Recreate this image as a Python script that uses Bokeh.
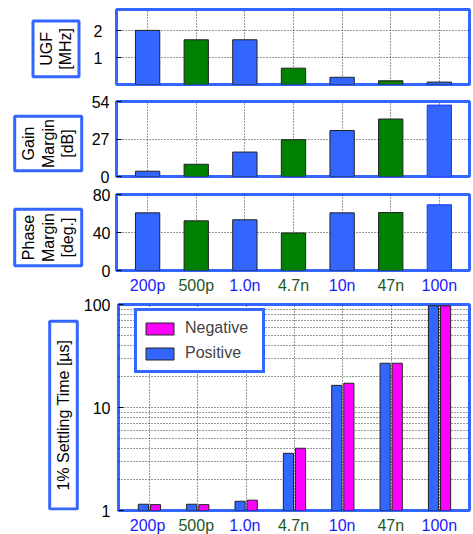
from math import pi
from bokeh.plotting import figure
from bokeh.models import (Range1d, FixedTicker, ColumnDataSource,
                          Legend, LegendItem, PrintfTickFormatter)
from bokeh.layouts import column, row
from bokeh.transform import dodge
from bokeh.embed import file_html
from bokeh.resources import INLINE
from bokeh.core.properties import value

# ---- data ----
capacitance = ["200p", "500p", "1.0n", "4.7n", "10n", "47n", "100n"]
positions = [1, 2, 3, 4, 5, 6, 7]
ugf_mhz = [2.02, 1.67, 1.67, 0.61, 0.27, 0.14, 0.09]
gain_margin_db = [3.8, 8.8, 17.6, 26.5, 33.1, 41.4, 51.4]
phase_margin_deg = [60.7, 52.3, 53.4, 39.5, 60.7, 61.1, 69.2]
settling_positive_us = [1.15, 1.15, 1.23, 3.59, 16.4, 26.9, 97.3]
settling_negative_us = [1.14, 1.14, 1.26, 4.02, 17.2, 26.9, 97.3]

ugf_ticks = [1, 2]
gm_ticks = [0, 27, 54]
pm_ticks = [0, 40, 80]
settle_ticks = [1, 10, 100]
settle_minor = [2, 3, 4, 5, 6, 7, 8, 9, 20, 30, 40, 50, 60, 70, 80, 90]

BLUE = "#3366ff"
GREEN = "#008000"
MAGENTA = "#ff00ff"
bar_fill = [BLUE, GREEN, BLUE, GREEN, BLUE, GREEN, BLUE]
bar_line = ["#222222"] * 7
bar_line_blue_last = ["#222222"] * 6 + ["#2233ff"]
LABEL_BLUE = "#1a1aff"
LABEL_GREEN = "#1d5a1d"
tick_text_color = [LABEL_BLUE, LABEL_GREEN, LABEL_BLUE, LABEL_GREEN, LABEL_BLUE, LABEL_GREEN, LABEL_BLUE]
FONT = "Liberation Sans"
XR = (0.36, 7.62)


def make_panel(width, height, left, top, bottom, y_range, yticks, standoff, y_type="linear"):
    p = figure(width=width, height=height, x_range=Range1d(*XR), y_range=y_range,
               y_axis_type=y_type, toolbar_location=None, output_backend="svg",
               min_border_left=left, min_border_right=3, min_border_top=top,
               min_border_bottom=bottom)
    p.outline_line_color = BLUE
    p.outline_line_width = 3
    p.outline_line_alpha = 1.0
    p.background_fill_color = "white"
    p.border_fill_color = "white"
    p.xaxis.visible = False
    p.xaxis.ticker = FixedTicker(ticks=positions)
    p.yaxis.ticker = FixedTicker(ticks=yticks)
    p.yaxis.axis_line_color = None
    p.yaxis.major_tick_in = 5
    p.yaxis.major_tick_out = 0
    p.yaxis.minor_tick_in = 0
    p.yaxis.minor_tick_out = 0
    p.yaxis.major_tick_line_color = "black"
    p.yaxis.major_label_standoff = standoff
    p.yaxis.major_label_text_font = FONT
    p.yaxis.major_label_text_font_size = "16px"
    p.yaxis.major_label_text_color = "black"
    p.grid.grid_line_color = "black"
    p.grid.grid_line_alpha = 0.8
    p.grid.grid_line_dash = "1 2"
    p.grid.grid_line_width = 1
    return p


def label_box(width, height, top, bottom, box, text):
    # frame spans the same rows as the neighbouring panel; ranges are in pixels
    frame_h = height - top - bottom
    q = figure(width=width, height=height, x_axis_location=None, y_axis_location=None,
               toolbar_location=None, output_backend="svg",
               x_range=Range1d(0, width), y_range=Range1d(0, frame_h),
               min_border_left=0, min_border_right=0,
               min_border_top=top, min_border_bottom=bottom)
    q.grid.visible = False
    q.outline_line_color = None
    l, r, b, t = box
    q.quad(left=[l], right=[r], bottom=[b], top=[t], fill_color="white",
           line_color=BLUE, line_width=3)
    q.text(x=[(l + r) / 2], y=[(b + t) / 2], text=[text], angle=pi / 2,
           text_align="center", text_baseline="middle", text_font=value(FONT),
           text_font_size="16px", text_color="black", text_line_height=1.15)
    return q


def tick_strip(height, overlap, text_y):
    s = figure(width=472, height=height, x_range=Range1d(*XR), y_range=Range1d(0, height),
               x_axis_location=None, y_axis_location=None, toolbar_location=None,
               output_backend="svg", min_border_left=116, min_border_right=3,
               min_border_top=0, min_border_bottom=0, margin=(-overlap, 0, 0, 0))
    s.grid.visible = False
    s.outline_line_color = None
    s.background_fill_alpha = 0
    s.border_fill_alpha = 0
    src = ColumnDataSource(dict(x=positions, y=[text_y] * 7, text=capacitance,
                                color=tick_text_color))
    s.text(x="x", y="y", text="text", source=src, text_color="color",
           text_align="center", text_baseline="top", text_font=value(FONT),
           text_font_size="16px")
    return s


# ---- UGF ----
p1 = make_panel(388, 92, 32, 9, 8, Range1d(0, 2.8), ugf_ticks, 14)
s1 = ColumnDataSource(dict(x=positions, top=ugf_mhz, fill=bar_fill, line=bar_line))
p1.vbar(x="x", top="top", bottom=0, width=0.5, source=s1, fill_color="fill",
        line_color="line", line_width=1)
l1 = label_box(84, 92, 9, 8, (32.5, 78.5, 7.8, 63.5), "UGF\n[MHz]")

# ---- Gain margin ----
p2 = make_panel(388, 94, 32, 9, 10, Range1d(0, 54), gm_ticks, 7)
s2 = ColumnDataSource(dict(x=positions, top=gain_margin_db, fill=bar_fill, line=bar_line_blue_last))
p2.vbar(x="x", top="top", bottom=0, width=0.5, source=s2, fill_color="fill",
        line_color="line", line_width=1)
l2 = label_box(84, 94, 9, 10, (14.2, 81.2, 5.8, 60.2), "Gain\nMargin\n[dB]")

# ---- Phase margin ----
p3 = make_panel(388, 92, 32, 8, 8, Range1d(0, 80), pm_ticks, 6)
s3 = ColumnDataSource(dict(x=positions, top=phase_margin_deg, fill=bar_fill, line=bar_line_blue_last))
p3.vbar(x="x", top="top", bottom=0, width=0.5, source=s3, fill_color="fill",
        line_color="line", line_width=1)
l3 = label_box(84, 92, 8, 8, (14.2, 81.2, 4.8, 61.2), "Phase\nMargin\n[deg.]")
t3 = tick_strip(24, 4, 22)

# ---- Settling time ----
p4 = make_panel(392, 235, 36, 6, 23, Range1d(1, 100), settle_ticks, 8, y_type="log")
p4.yaxis.ticker = FixedTicker(ticks=settle_ticks, minor_ticks=settle_minor)
p4.yaxis.formatter = PrintfTickFormatter(format="%d")
p4.ygrid.minor_grid_line_color = "black"
p4.ygrid.minor_grid_line_alpha = 0.8
p4.ygrid.minor_grid_line_dash = "1 2"
s4 = ColumnDataSource(dict(x=positions, pos=settling_positive_us, neg=settling_negative_us))
r_pos = p4.vbar(x=dodge("x", -0.125), top="pos", bottom=1, width=0.21, source=s4,
                fill_color=BLUE, line_color="#222222", line_width=1)
r_neg = p4.vbar(x=dodge("x", 0.125), top="neg", bottom=1, width=0.21, source=s4,
                fill_color=MAGENTA, line_color="#222222", line_width=1)
l4 = label_box(80, 235, 6, 23, (49.2, 76.8, 1.5, 189.2), "1% Settling Time [µs]")
t4 = tick_strip(24, 23, 18)

legend = Legend(items=[LegendItem(label="Negative", renderers=[r_neg]),
                       LegendItem(label="Positive", renderers=[r_pos])],
                location=(16, 137), padding=5, spacing=1, margin=0,
                glyph_width=35, glyph_height=15, label_height=24, label_width=72,
                label_standoff=8, label_text_font=FONT, label_text_font_size="16px",
                border_line_color=BLUE, border_line_width=3, border_line_alpha=1.0,
                background_fill_color="white", background_fill_alpha=1.0)
p4.add_layout(legend)

layout = column(row(l1, p1, spacing=0), row(l2, p2, spacing=0), row(l3, p3, spacing=0),
                t3, row(l4, p4, spacing=0), t4, spacing=0)
open("out.html", "w").write(file_html(layout, INLINE))
